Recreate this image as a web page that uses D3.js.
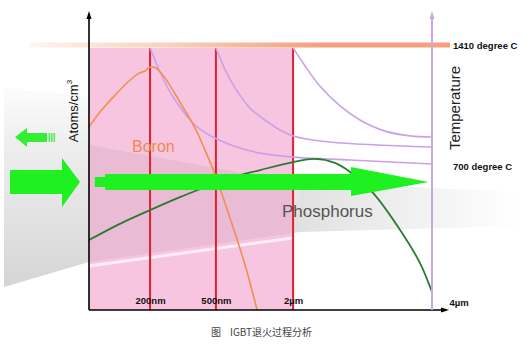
<!DOCTYPE html>
<html>
<head>
<meta charset="utf-8">
<script src="https://cdn.jsdelivr.net/npm/d3@7"></script>
<style>
  body { margin: 0; background: #fff; }
  svg { display: block; font-family: "Liberation Sans", Arial, sans-serif; }
</style>
</head>
<body>
<div id="chart"></div>
<script>
// depth along the wafer in chart units (0..100), concentration / temperature in units (0..100)
const tickPos = [17.8, 37, 59.5, 100]
const tickLabels = ['200nm', '500nm', '2µm', '4µm']

const boronX = [0, 3.2, 7.6, 12, 14.3, 16.3, 17.8, 19.5, 22.2, 26.5, 30.9, 33.8, 36.7, 41.1, 45.5, 49]
const boronY = [69, 74.7, 81.1, 86.8, 89.1, 90.2, 91.7, 91.3, 87.5, 78.5, 68.7, 60.4, 51.3, 34.7, 17, 0]

const phosX = [0, 9, 17.8, 26.5, 33.2, 41.1, 49.9, 59.5, 65.9, 71.7, 76.1, 82.8, 90.7, 96.5, 100]
const phosY = [26.4, 32.5, 37.7, 42.6, 46, 49.8, 52.8, 55.8, 57, 55.5, 52.1, 44.2, 30.2, 17.7, 6.8]

// temperature decay after each anneal step
const tempAX = [17.8, 20.7, 23.6, 26.5, 30.9, 36.7, 44, 49.9, 59.5, 76.1, 100]
const tempAY = [98.9, 89.8, 82.3, 76.6, 69.8, 64.9, 61.1, 59.2, 57.7, 56.6, 55.1]
const tempBX = [37, 39.7, 42.6, 46.9, 51.3, 55.7, 59.5, 70.3, 100]
const tempBY = [98.9, 90.6, 83.8, 76.2, 71.7, 67.9, 65.7, 63.4, 61.5]
const tempCX = [59.5, 63, 67.3, 73.2, 79, 86.3, 93.6, 100]
const tempCY = [98.9, 92.1, 84.5, 77, 71.7, 67.5, 65.7, 65.3]

const tempLevels = [100, 54.3]
const tempLabels = ['1410 degree C', '700 degree C']

const W = 530, H = 348
const svg = d3.select('#chart').append('svg')
  .attr('width', W)
  .attr('height', H)

const x = d3.scaleLinear().domain([0, 100]).range([89, 432])
const y = d3.scaleLinear().domain([0, 100]).range([310, 45])

const defs = svg.append('defs')
const gray = defs.append('linearGradient').attr('id', 'gray')
  .attr('x1', 0).attr('y1', 0).attr('x2', 0).attr('y2', 1)
gray.append('stop').attr('offset', '0%').attr('stop-color', '#c4c4c4').attr('stop-opacity', 0.05)
gray.append('stop').attr('offset', '30%').attr('stop-color', '#c4c4c4').attr('stop-opacity', 0.3)
gray.append('stop').attr('offset', '100%').attr('stop-color', '#b8b8b8').attr('stop-opacity', 0.6)
const grayR = defs.append('linearGradient').attr('id', 'grayR')
grayR.append('stop').attr('offset', '0%').attr('stop-color', '#bdbdbd').attr('stop-opacity', 0.45)
grayR.append('stop').attr('offset', '100%').attr('stop-color', '#bdbdbd').attr('stop-opacity', 0)
const peach = defs.append('linearGradient').attr('id', 'peach')
  .attr('gradientUnits', 'userSpaceOnUse')
  .attr('x1', 30).attr('x2', 320).attr('y1', 0).attr('y2', 0)
peach.append('stop').attr('offset', '0%').attr('stop-color', '#fff4ee')
peach.append('stop').attr('offset', '45%').attr('stop-color', '#fbd2bf')
peach.append('stop').attr('offset', '100%').attr('stop-color', '#f4a07c')

// grey swoosh in the background
svg.append('path')
  .attr('d', 'M4,88 L89,96 L300,182 L300,232 L89,262 L4,287 Z')
  .attr('fill', 'url(#gray)')
svg.append('path')
  .attr('d', 'M300,182 L520,192 L520,226 L300,232 Z')
  .attr('fill', 'url(#grayR)')

// pink annealed zone up to 2µm
svg.append('rect')
  .attr('x', x(0)).attr('y', y(98.9))
  .attr('width', x(tickPos[2]) - x(0))
  .attr('height', y(0) - y(98.9))
  .attr('fill', '#f8c5e0')

// swoosh shade over the pink
svg.append('path')
  .attr('d', 'M89,145 L293,182 L293,233 L89,262 Z')
  .attr('fill', '#a08898').attr('opacity', 0.16)
svg.append('path')
  .attr('d', 'M4,292 L89,266 L300,237')
  .attr('fill', 'none').attr('stroke', '#fff').attr('stroke-width', 3).attr('opacity', 0.7)

// 1410 degree line
svg.append('line')
  .attr('x1', 30).attr('x2', 450)
  .attr('y1', y(tempLevels[0])).attr('y2', y(tempLevels[0]))
  .attr('stroke', 'url(#peach)').attr('stroke-width', 5)

// step lines
svg.selectAll('.step')
  .data(tickPos.slice(0, 3))
  .enter()
  .append('line')
  .attr('class', 'step')
  .attr('x1', (d) => x(d)).attr('x2', (d) => x(d))
  .attr('y1', y(98.9)).attr('y2', y(0))
  .attr('stroke', '#e0202e').attr('stroke-width', 2)

const line = d3.line()
  .x((d) => x(d[0]))
  .y((d) => y(d[1]))
  .curve(d3.curveCatmullRom)

const zip = (a, b) => a.map((v, i) => [v, b[i]])
const temps = [zip(tempAX, tempAY), zip(tempBX, tempBY), zip(tempCX, tempCY)]

svg.selectAll('.temp')
  .data(temps)
  .enter()
  .append('path')
  .attr('class', 'temp')
  .attr('d', line)
  .attr('fill', 'none')
  .attr('stroke', '#c9a2e6')
  .attr('stroke-width', 1.6)

svg.append('path')
  .attr('d', line(zip(boronX, boronY)))
  .attr('fill', 'none')
  .attr('stroke', '#ef9050')
  .attr('stroke-width', 1.6)

svg.append('path')
  .attr('d', line(zip(phosX, phosY)))
  .attr('fill', 'none')
  .attr('stroke', '#2b7a33')
  .attr('stroke-width', 1.8)

// big green diffusion arrow
const ay = y(48.3)
const arrowPts = [
  [x(1.7), ay - 5], [x(4.7), ay - 5], [x(4.7), ay - 8], [x(76.4), ay - 8], [x(76.4), ay - 15],
  [x(99), ay], [x(76.4), ay + 14], [x(76.4), ay + 8], [x(4.7), ay + 8], [x(4.7), ay + 5], [x(1.7), ay + 5]
]
svg.append('polygon')
  .attr('points', arrowPts.map((p) => p.join(',')).join(' '))
  .attr('fill', '#1ff01f')

// left decoration arrows
svg.append('polygon')
  .attr('points', '15,137 27,128 27,133 47,133 47,142 27,142 27,147')
  .attr('fill', '#33ee33')
svg.selectAll('.stripe')
  .data([48.5, 51, 53.5])
  .enter()
  .append('rect')
  .attr('x', (d) => d).attr('y', 133)
  .attr('width', 1.6).attr('height', 9)
  .attr('fill', '#55ee55')
svg.append('polygon')
  .attr('points', '10,170 62,170 62,158 80,182 62,207 62,194 10,194')
  .attr('fill', '#1ff01f')

// axes
const axisG = svg.append('g')
axisG.append('line')
  .attr('x1', x(0)).attr('x2', x(0))
  .attr('y1', y(0)).attr('y2', 18)
  .attr('stroke', '#000').attr('stroke-width', 1.6)
axisG.append('polygon')
  .attr('points', `${x(0)},11 ${x(0) - 2.5},19 ${x(0) + 2.5},19`)
  .attr('fill', '#000')
axisG.append('line')
  .attr('x1', x(0)).attr('x2', 442)
  .attr('y1', y(0)).attr('y2', y(0))
  .attr('stroke', '#000').attr('stroke-width', 1.6)
axisG.append('polygon')
  .attr('points', `449,${y(0)} 441,${y(0) - 2.5} 441,${y(0) + 2.5}`)
  .attr('fill', '#000')

// temperature axis
axisG.append('line')
  .attr('x1', x(100)).attr('x2', x(100))
  .attr('y1', y(0)).attr('y2', 18)
  .attr('stroke', '#c7a6ee').attr('stroke-width', 2)
axisG.append('polygon')
  .attr('points', `${x(100)},11 ${x(100) - 2.5},19 ${x(100) + 2.5},19`)
  .attr('fill', '#c7a6ee')

const xAxis = d3.axisTop(x)
  .tickValues(tickPos)
  .tickFormat((d, i) => tickLabels[i])
  .tickSize(0)
  .tickPadding(6)
const xg = svg.append('g')
  .attr('transform', `translate(0,${y(0)})`)
  .call(xAxis)
xg.select('.domain').remove()
xg.selectAll('text')
  .attr('font-family', '"Liberation Sans", Arial, sans-serif')
  .attr('font-size', 9.5)
  .attr('font-weight', 'bold')
  .attr('fill', '#111')
xg.selectAll('.tick')
  .filter((d, i) => i === 3)
  .select('text')
  .attr('text-anchor', 'start')
  .attr('dx', 17)
  .attr('dy', 2)

// temperature labels
svg.selectAll('.tlab')
  .data(tempLevels)
  .enter()
  .append('text')
  .attr('class', 'tlab')
  .attr('x', 453)
  .attr('y', (d) => y(d) + 3.5)
  .attr('font-size', 9.5)
  .attr('font-weight', 'bold')
  .attr('fill', '#111')
  .text((d, i) => tempLabels[i])

const yl = svg.append('text')
  .attr('transform', 'translate(78,111) rotate(-90)')
  .attr('text-anchor', 'middle')
  .attr('font-size', 13)
  .attr('fill', '#111')
yl.append('tspan').text('Atoms/cm')
yl.append('tspan').text('3').attr('font-size', 8).attr('dy', -6)

svg.append('text')
  .attr('transform', 'translate(460,108) rotate(-90)')
  .attr('text-anchor', 'middle')
  .attr('font-size', 15)
  .attr('fill', '#222')
  .text('Temperature')

svg.append('text')
  .attr('x', 132).attr('y', 152)
  .attr('font-size', 16)
  .attr('fill', '#ec8a50')
  .text('Boron')

svg.append('text')
  .attr('x', 282).attr('y', 217)
  .attr('font-size', 17)
  .attr('fill', '#555')
  .text('Phosphorus')

svg.append('text')
  .attr('x', 211).attr('y', 336)
  .attr('font-family', '"Noto Sans CJK SC", sans-serif')
  .attr('font-size', 10)
  .attr('fill', '#444')
  .attr('xml:space', 'preserve')
  .text('图    IGBT退火过程分析')
</script>
</body>
</html>
